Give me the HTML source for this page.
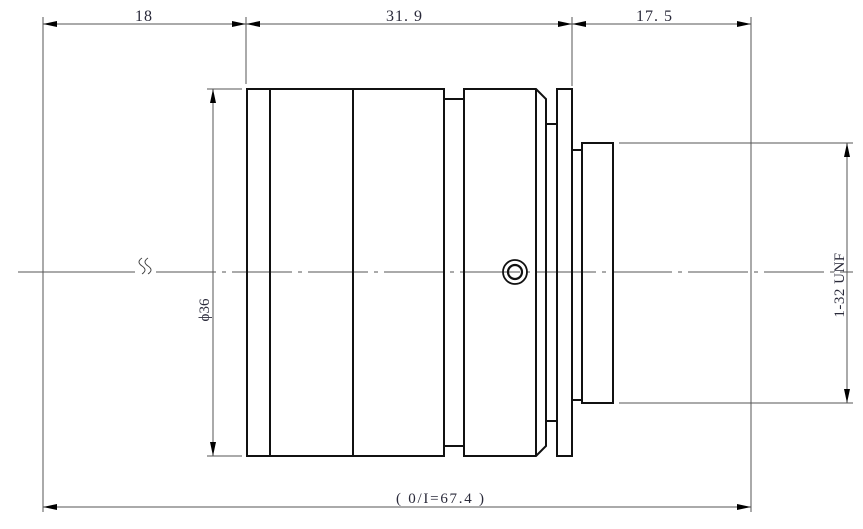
<!DOCTYPE html>
<html><head><meta charset="utf-8"><style>
html,body{margin:0;padding:0;background:#fff;}
svg{display:block;}
text{font-family:"Liberation Serif",serif;fill:#2a2a3a;}
</style></head><body>
<svg width="863" height="529" viewBox="0 0 863 529" xmlns="http://www.w3.org/2000/svg">
<defs>
<marker id="a" viewBox="0 0 14 6" refX="14" refY="3" markerWidth="14" markerHeight="6" markerUnits="userSpaceOnUse" orient="auto-start-reverse"><path d="M0,0 L14,3 L0,6 z" fill="#000"/></marker>
</defs>
<g stroke="#555" stroke-width="1" fill="none">
<line x1="43" y1="17" x2="43" y2="512"/>
<line x1="246" y1="17" x2="246" y2="84"/>
<line x1="572" y1="17" x2="572" y2="86"/>
<line x1="751" y1="17" x2="751" y2="512"/>
<line x1="43" y1="24" x2="246" y2="24" marker-start="url(#a)" marker-end="url(#a)"/>
<line x1="246" y1="24" x2="572" y2="24" marker-start="url(#a)" marker-end="url(#a)"/>
<line x1="572" y1="24" x2="751" y2="24" marker-start="url(#a)" marker-end="url(#a)"/>
<line x1="43" y1="507" x2="751" y2="507" marker-start="url(#a)" marker-end="url(#a)"/>
<line x1="207" y1="89" x2="242" y2="89"/>
<line x1="207" y1="456" x2="242" y2="456"/>
<line x1="213" y1="89" x2="213" y2="456" marker-start="url(#a)" marker-end="url(#a)"/>
<line x1="619" y1="143" x2="853" y2="143"/>
<line x1="619" y1="403" x2="853" y2="403"/>
<line x1="847" y1="143" x2="847" y2="403" marker-start="url(#a)" marker-end="url(#a)"/>
<line x1="18" y1="272" x2="135" y2="272"/>
<line x1="156" y1="272" x2="853" y2="272" stroke-dasharray="60,6,4,6"/>
<path d="M142,258 q-6,4 0,8 q6,4 0,8 M148,258 q-6,4 0,8 q6,4 0,8" stroke="#444"/>
</g>
<g stroke="#111" stroke-width="2" fill="none">
<rect x="247" y="89" width="197" height="367"/>
<line x1="270" y1="89" x2="270" y2="456"/>
<line x1="353" y1="89" x2="353" y2="456"/>
<rect x="444" y="99" width="20" height="347"/>
<path d="M464,89 H536 L546,99 V446 L536,456 H464 Z"/>
<line x1="536" y1="89" x2="536" y2="456"/>
<rect x="546" y="124" width="11" height="297"/>
<rect x="557" y="89" width="15" height="367"/>
<rect x="572" y="150" width="10" height="250"/>
<rect x="582" y="143" width="31" height="260"/>
<circle cx="515" cy="272" r="12" stroke-width="1.8"/>
<circle cx="515" cy="272" r="7" stroke-width="2.2"/>
</g>
<text x="135" y="21" font-size="16" textLength="17">18</text>
<text x="386" y="21" font-size="16" textLength="36">31. 9</text>
<text x="636" y="21" font-size="16" textLength="36">17. 5</text>
<text x="396" y="503" font-size="15" textLength="88" lengthAdjust="spacing">( 0/I=67.4 )</text>
<text transform="translate(209,310) rotate(-90)" font-size="15" text-anchor="middle">ϕ36</text>
<text transform="translate(844,285) rotate(-90)" font-size="15" text-anchor="middle" letter-spacing="0.5">1-32 UNF</text>
</svg>
</body></html>
